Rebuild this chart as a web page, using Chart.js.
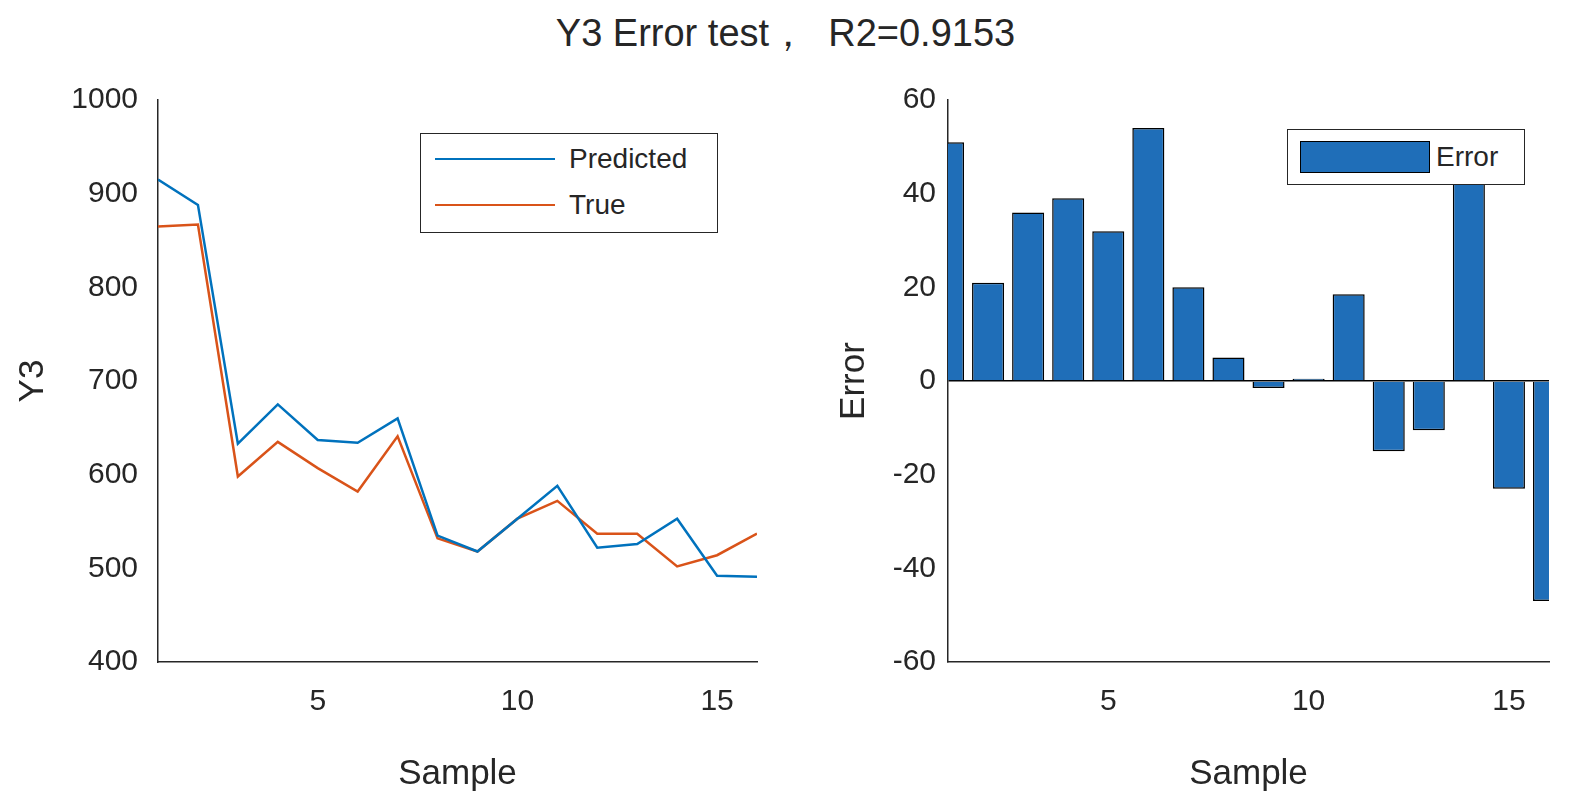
<!DOCTYPE html>
<html><head><meta charset="utf-8">
<script src="https://cdn.jsdelivr.net/npm/chart.js@4/dist/chart.umd.min.js"></script>
<style>
body{margin:0;background:#fff;width:1571px;height:799px;position:relative;overflow:hidden;font-family:"Liberation Sans",Arial,sans-serif;color:#262626}
canvas{position:absolute;top:0}
#title{position:absolute;top:8px;left:0;width:1571px;text-align:center;font-size:38px}
.leg{position:absolute;background:#fff;border:1.5px solid #262626;font-size:28px}
.row{display:flex;align-items:center;height:46px}
.ln{width:120px;height:2.5px;margin:0 14px 0 14px}
</style></head><body>
<div id="title">Y3 Error test，&nbsp; R2=0.9153</div>
<div style="position:absolute;left:0;top:0;width:785px;height:799px"><canvas id="c1"></canvas></div>
<div style="position:absolute;left:785px;top:0;width:786px;height:799px"><canvas id="c2"></canvas></div>
<div class="leg" style="left:420px;top:133px;width:296px;height:96px;padding-top:2px">
 <div class="row"><div class="ln" style="background:#0072BD"></div>Predicted</div>
 <div class="row"><div class="ln" style="background:#D95319"></div>True</div>
</div>
<div class="leg" style="left:1287px;top:129px;width:236px;height:54px">
 <div class="row" style="height:54px"><div style="width:128px;height:30px;background:#1F6EB8;border:1.5px solid #000;margin:0 6px 0 12px"></div>Error</div>
</div>
<script>
const samples=[1,2,3,4,5,6,7,8,9,10,11,12,13,14,15,16];
const predicted=[915,888,633,675,637,634,660,535,518,553,588,522,526,553,492,491];
const trueVals=[865,867,598,635,607,582,641,532,518,553,572,537,537,502,514,537];
const errors=[51,21,36,39,32,54,20,5,-1.5,0.5,18.5,-15,-10.5,51,-23,-47];
const xTicks=[5,10,15];
Chart.defaults.font.family='"Liberation Sans",Arial,sans-serif';
Chart.defaults.color='#262626';
const tickFont={size:30};
const titleFont={size:35};
function xScale(){return {type:'linear',min:1,max:16,offset:false,
  afterBuildTicks:s=>{s.ticks=xTicks.map(v=>({value:v}))},
  afterFit:s=>{s.height=137},
  grid:{display:false,drawTicks:true},border:{color:'#262626',width:1.5},
  ticks:{font:tickFont,color:'#262626',padding:14},
  title:{display:true,text:'Sample',font:titleFont,color:'#262626',padding:{top:2}}};}
function yTicks(){return {font:tickFont,color:'#262626',padding:12,callback:v=>String(v)};}
new Chart(document.getElementById('c1'),{type:'line',
 data:{datasets:[
  {label:'Predicted',data:samples.map((x,i)=>({x,y:predicted[i]})),borderColor:'#0072BD',borderWidth:2.5,pointRadius:0,tension:0},
  {label:'True',data:samples.map((x,i)=>({x,y:trueVals[i]})),borderColor:'#D95319',borderWidth:2.5,pointRadius:0,tension:0}]},
 options:{responsive:true,maintainAspectRatio:false,animation:false,
  layout:{padding:{top:100,right:28,left:0,bottom:0}},
  plugins:{legend:{display:false},tooltip:{enabled:false}},
  scales:{x:xScale(),
   y:{min:400,max:1000,ticks:Object.assign({stepSize:100},yTicks()),afterFit:s=>{s.width=158},
    grid:{display:false},border:{color:'#262626',width:1.5},
    title:{display:true,text:'Y3',font:titleFont,color:'#262626',padding:{top:12,bottom:0}}}}}});
new Chart(document.getElementById('c2'),{type:'bar',
 data:{datasets:[{label:'Error',data:samples.map((x,i)=>({x,y:errors[i]})),backgroundColor:'#1F6EB8',borderColor:'#000',borderWidth:1.5,barPercentage:0.8,categoryPercentage:1}]},
 options:{responsive:true,maintainAspectRatio:false,animation:false,
  layout:{padding:{top:100,right:22,left:0,bottom:0}},
  plugins:{legend:{display:false},tooltip:{enabled:false}},
  scales:{x:xScale(),
   y:{min:-60,max:60,ticks:Object.assign({stepSize:20},yTicks()),afterFit:s=>{s.width=163},
    grid:{drawTicks:false,color:c=>c.tick&&c.tick.value===0?'#000':'rgba(0,0,0,0)',lineWidth:1.5},
    border:{color:'#262626',width:1.5},
    title:{display:true,text:'Error',font:titleFont,color:'#262626',padding:{top:48,bottom:0}}}}}});
</script>
</body></html>
